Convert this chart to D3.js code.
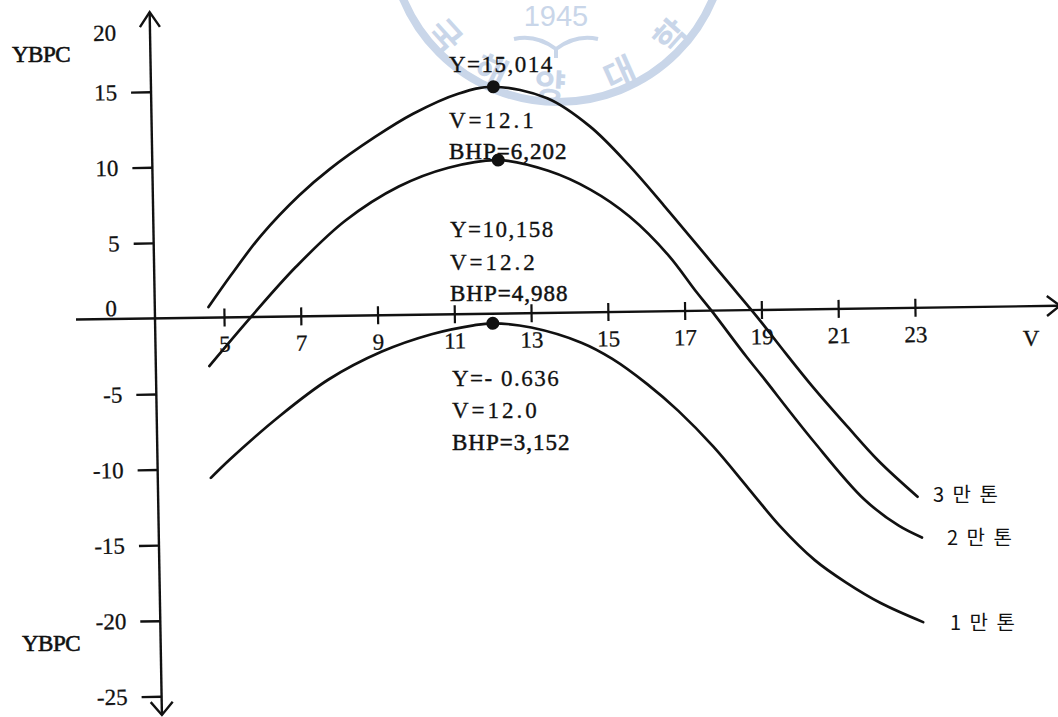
<!DOCTYPE html>
<html>
<head>
<meta charset="utf-8">
<script src="https://cdn.jsdelivr.net/npm/d3@7"></script>
<style>
  html, body { margin: 0; padding: 0; background: #fff; }
  svg { display: block; }
</style>
</head>
<body>
<svg id="chart" width="1058" height="717"></svg>
<script>
// YBPC against service speed V for three ship sizes
const sizes = ["3 만 톤", "2 만 톤", "1 만 톤"];

const v30 = [4.6, 5.2, 6.0, 7.0, 7.8, 9.0, 10.0, 11.2, 12.1, 13.5, 14.6, 15.6, 16.5, 17.4, 18.1, 18.9, 19.5, 20.3, 21.2, 22.0, 23.0];
const y30 = [0.7, 2.8, 5.4, 8.0, 9.7, 11.8, 13.3, 14.6, 15.014, 14.2, 12.3, 9.7, 7.0, 4.2, 2.0, -0.5, -2.5, -5.1, -7.8, -10.1, -12.5];

const v20 = [4.6, 5.7, 6.9, 8.2, 9.6, 10.9, 12.2, 13.5, 14.6, 15.6, 16.6, 17.3, 17.7, 18.6, 19.0, 20.3, 21.6, 22.5, 23.1];
const y20 = [-3.2, 0.0, 3.3, 6.3, 8.5, 9.7, 10.158, 9.4, 8.1, 6.3, 3.7, 1.3, 0.0, -3.1, -4.4, -8.7, -12.6, -14.4, -15.2];

const v10 = [4.6, 5.1, 6.4, 7.7, 9.1, 10.4, 11.5, 12.0, 13.0, 14.3, 15.1, 16.0, 16.8, 17.7, 18.6, 19.4, 20.3, 21.1, 22.0, 23.1];
const y10 = [-10.6, -9.4, -6.6, -4.2, -2.4, -1.3, -0.75, -0.636, -0.95, -2.0, -3.1, -4.8, -6.6, -9.0, -11.8, -14.3, -16.6, -18.1, -19.5, -20.8];

// optimum points of each curve
const peakV = [12.1, 12.2, 12.0];
const peakY = [15.014, 10.158, -0.636];
const peakYText = ["15,014", "10,158", "- 0.636"];
const peakBHP = ["6,202", "4,988", "3,152"];

const xTicks = [5, 7, 9, 11, 13, 15, 17, 19, 21, 23];
const yTicks = [20, 15, 10, 5, 0, -5, -10, -15, -20, -25];

// ---------------------------------------------------------------
const svg = d3.select("#chart");
const serif = "'Liberation Serif', 'Times New Roman', serif";
const ink = "#111";

const x = d3.scaleLinear().domain([5, 23]).range([224, 915]);
const y = d3.scaleLinear().domain([-25, 15]).range([696.3, 91.7]);
const ox = 155, oy = y(0);

svg.append("rect").attr("width", 1058).attr("height", 717).attr("fill", "#fff");

// university seal printed faintly behind the figure
const sealColor = "#c9d6e9";
const seal = svg.append("g");
const sc = { x: 558, y: -66 };
seal.append("circle").attr("cx", sc.x).attr("cy", sc.y).attr("r", 168)
  .attr("fill", "none").attr("stroke", sealColor).attr("stroke-width", 8);
const sealChars = ["국", "해", "양", "대", "학"];
const sealAngles = [138, 116, 93, 66, 42];
seal.selectAll("text.sc").data(sealChars).join("text")
  .attr("class", "sc")
  .attr("transform", (d, i) => {
    const a = sealAngles[i] * Math.PI / 180;
    return `translate(${sc.x + 150 * Math.cos(a)},${sc.y + 150 * Math.sin(a)}) rotate(${sealAngles[i] - 90})`;
  })
  .attr("text-anchor", "middle").attr("dominant-baseline", "central")
  .attr("font-family", "'Noto Sans CJK KR', sans-serif").attr("font-weight", 700)
  .attr("font-size", 34).attr("fill", sealColor)
  .text(d => d);
seal.append("text").attr("x", 556).attr("y", 26).attr("text-anchor", "middle")
  .attr("font-family", "'Liberation Sans', Arial, sans-serif").attr("font-size", 29)
  .attr("fill", sealColor).text("1945");
seal.append("path")
  .attr("d", "M514,39 Q536,34 556,49 Q576,34 598,39 M556,49 L556,58")
  .attr("fill", "none").attr("stroke", sealColor).attr("stroke-width", 4);

// ---------------------------------------------------------------
// vertical axis (YBPC)
const yAxisG = svg.append("g").attr("transform", `rotate(-1, ${ox}, ${oy})`);
yAxisG.append("line").attr("x1", ox).attr("x2", ox).attr("y1", 12).attr("y2", 715)
  .attr("stroke", ink).attr("stroke-width", 2.4);
yAxisG.append("path").attr("d", `M${ox - 10},27 L${ox},12 L${ox + 10},27`)
  .attr("fill", "none").attr("stroke", ink).attr("stroke-width", 2.4);
yAxisG.append("path").attr("d", `M${ox - 11},702 L${ox},715 L${ox + 11},702`)
  .attr("fill", "none").attr("stroke", ink).attr("stroke-width", 2.4);

const yAxis = d3.axisLeft(y).tickValues(yTicks).tickSize(20).tickPadding(14)
  .tickFormat(d => String(d));
const yg = yAxisG.append("g").attr("transform", `translate(${ox},0)`).call(yAxis);
yg.select(".domain").remove();
yg.selectAll(".tick line").attr("stroke", ink).attr("stroke-width", 2.4)
  .attr("display", d => (d === 20 || d === 0) ? "none" : null);
yg.selectAll(".tick text")
  .attr("font-family", serif).attr("font-size", 23).attr("fill", ink)
  .attr("stroke", ink).attr("stroke-width", 0.3)
  .attr("y", d => d === 20 ? 16 : d === 0 ? -11 : 0)
  .attr("x", d => d === 0 ? -38 : -34);

// ---------------------------------------------------------------
// horizontal axis (V) and the curves share one frame
const plot = svg.append("g").attr("transform", `rotate(-0.8, ${ox}, ${oy})`);

plot.append("line").attr("x1", 76).attr("x2", 1060).attr("y1", oy).attr("y2", oy)
  .attr("stroke", ink).attr("stroke-width", 2.4);
plot.append("path").attr("d", `M1047,${oy - 10} L1060,${oy} L1047,${oy + 10}`)
  .attr("fill", "none").attr("stroke", ink).attr("stroke-width", 2.4);

const xAxis = d3.axisBottom(x).tickValues(xTicks).tickSize(9).tickPadding(9)
  .tickFormat(d => String(d));
const xg = plot.append("g").attr("transform", `translate(0,${oy})`).call(xAxis);
xg.select(".domain").remove();
xg.selectAll(".tick line").attr("y1", -9).attr("stroke", ink).attr("stroke-width", 2.2);
xg.selectAll(".tick text").attr("font-family", serif).attr("font-size", 23).attr("fill", ink)
  .attr("stroke", ink).attr("stroke-width", 0.3);

const line = d3.line().x(d => x(d[0])).y(d => y(d[1])).curve(d3.curveCatmullRom.alpha(0.5));
const curves = [d3.zip(v30, y30), d3.zip(v20, y20), d3.zip(v10, y10)];

plot.selectAll("path.curve").data(curves).join("path")
  .attr("class", "curve")
  .attr("d", line)
  .attr("fill", "none").attr("stroke", ink).attr("stroke-width", 2.7)
  .attr("stroke-linecap", "round");

plot.selectAll("circle.peak").data(peakV).join("circle")
  .attr("class", "peak")
  .attr("cx", d => x(d)).attr("cy", (d, i) => y(peakY[i])).attr("r", 6.5)
  .attr("fill", ink);

// ---------------------------------------------------------------
// text labels
const txt = (s, px, py, opts = {}) => svg.append("text")
  .attr("x", px).attr("y", py)
  .attr("font-family", opts.family || serif).attr("font-size", opts.size || 23)
  .attr("letter-spacing", opts.ls || 0)
  .attr("text-anchor", opts.anchor || "start")
  .attr("fill", ink).attr("stroke", ink).attr("stroke-width", opts.sw == null ? 0.3 : opts.sw)
  .text(s);

txt("YBPC", 12, 62, { ls: -0.5, sw: 0.6 });
txt("YBPC", 22, 651, { ls: -0.5, sw: 0.6 });
txt("V", 1031, 346, { anchor: "middle" });

// optimum-point notes: Y, V, BHP
const noteX = [449, 450, 452];
const noteY = [[72, 128, 159], [237, 270, 301], [386, 418, 450]];
peakV.forEach((v, i) => {
  txt(`Y=${peakYText[i]}`, noteX[i], noteY[i][0], { ls: 1.5 });
  txt(`V=${v.toFixed(1)}`, noteX[i], noteY[i][1], { ls: 3 });
  txt(`BHP=${peakBHP[i]}`, noteX[i], noteY[i][2], { ls: 1, sw: 0.5 });
});

// ship-size names at the ends of the curves
const sizeX = [933, 947, 950];
const sizeY = [502, 545, 630];
sizes.forEach((s, i) => {
  txt(s, sizeX[i], sizeY[i], { family: "'Noto Sans CJK KR', sans-serif", size: 20, ls: 2, sw: 0 });
});
</script>
</body>
</html>
